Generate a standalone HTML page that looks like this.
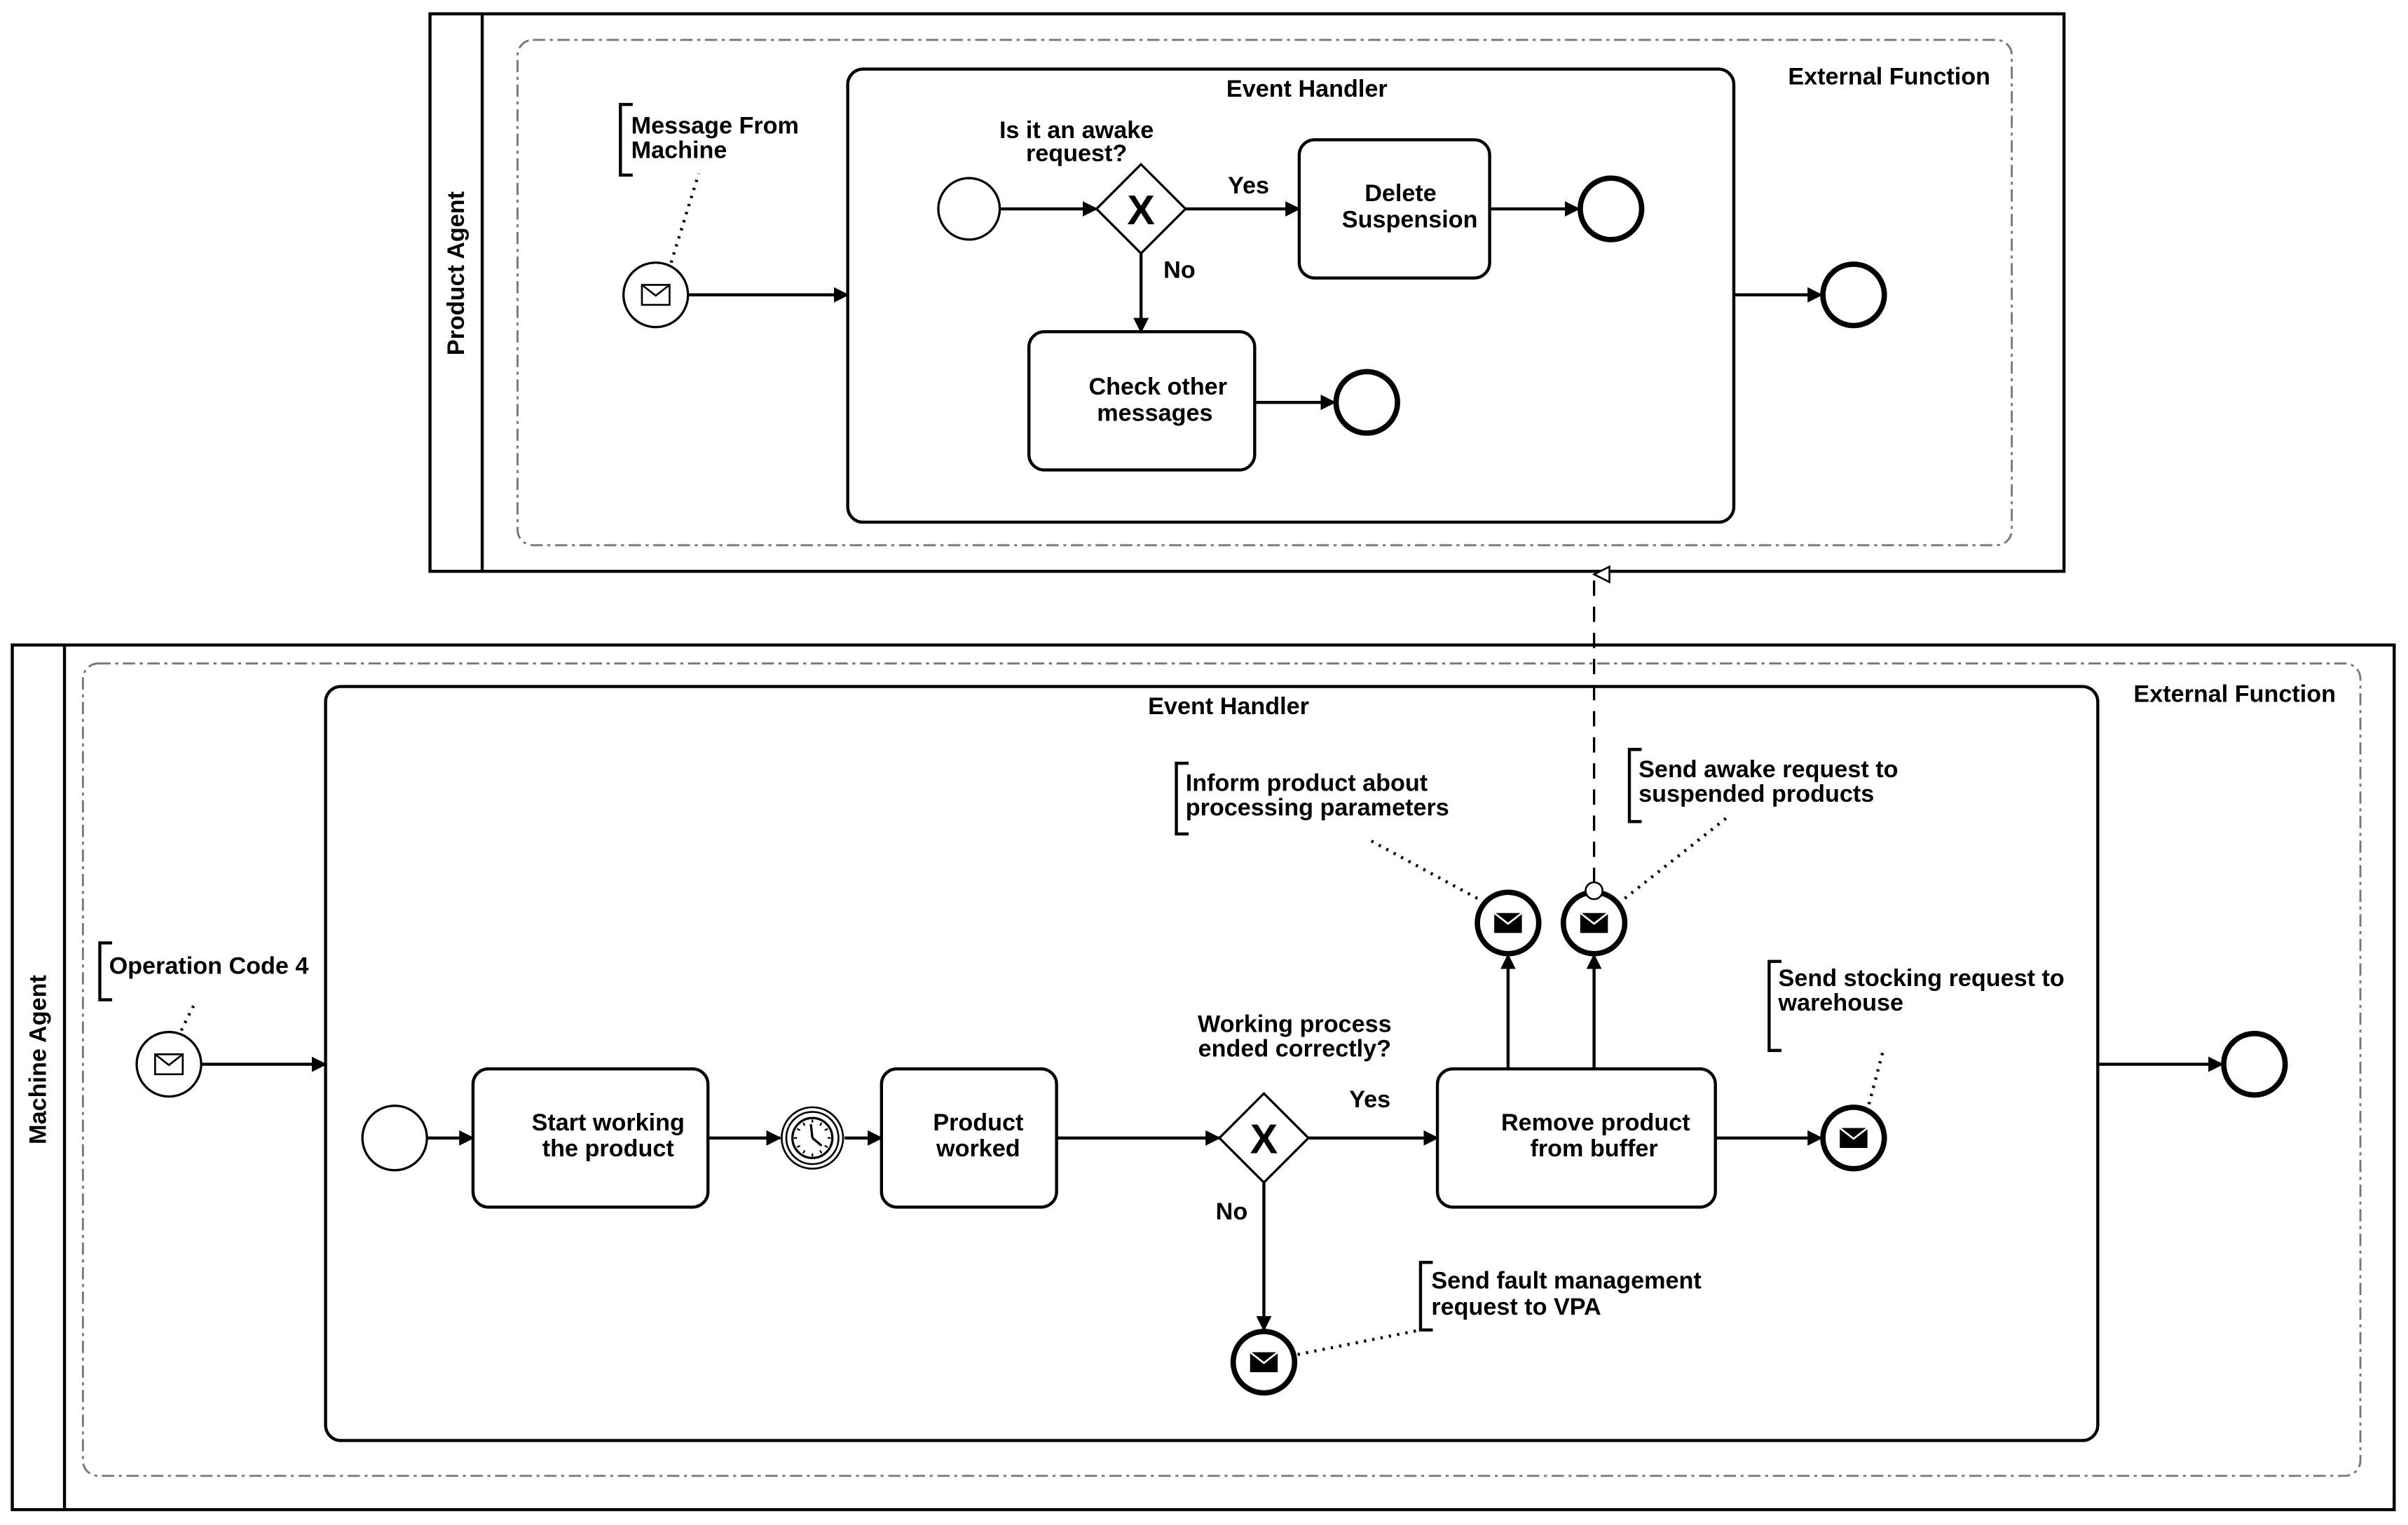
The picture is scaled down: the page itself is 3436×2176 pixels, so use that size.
<!DOCTYPE html>
<html><head><meta charset="utf-8"><style>
html,body{margin:0;padding:0;background:#fff;}
svg{display:block;}
text{font-family:"Liberation Sans",sans-serif;font-weight:bold;font-size:15.6px;fill:#000;}
</style></head><body>
<svg width="3436" height="2176" viewBox="0 0 1568 993" xmlns="http://www.w3.org/2000/svg">
<defs>
<marker id="a" markerWidth="10" markerHeight="10" refX="9" refY="5" orient="auto" markerUnits="userSpaceOnUse"><path d="M0,0 L10,5 L0,10 Z" fill="#000"/></marker>
<marker id="h" markerWidth="12" markerHeight="12" refX="6" refY="1" orient="auto" markerUnits="userSpaceOnUse"><path d="M1,11 L6,1 L11,11 Z" fill="#fff" stroke="#000" stroke-width="1.2"/></marker>
<g id="env"><rect x="-9" y="-6.5" width="18" height="13" fill="#fff" stroke="#000" stroke-width="1.2"/><path d="M-9,-6.5 L0,0.5 L9,-6.5" fill="none" stroke="#000" stroke-width="1.2"/></g>
<g id="envf"><rect x="-9" y="-6.5" width="18" height="13" fill="#000"/><path d="M-9,-6.5 L0,0.5 L9,-6.5" fill="none" stroke="#fff" stroke-width="1.2"/></g>
</defs>
<g fill="none" stroke="#000">
<rect x="280" y="9" width="1064" height="363" stroke-width="2"/>
<line x1="314" y1="9" x2="314" y2="372" stroke-width="2"/>
<rect x="337" y="26" width="973" height="329" rx="10" stroke="#777" stroke-width="1.3" stroke-dasharray="8,3,2,3"/>
<rect x="552" y="45" width="577" height="295" rx="10" stroke-width="2"/>
<circle cx="631" cy="136" r="20" stroke-width="1.5"/>
<path d="M743,107 L772,136 L743,165 L714,136 Z" stroke-width="1.5" fill="#fff"/>
<line x1="651" y1="136" x2="714" y2="136" stroke-width="2" marker-end="url(#a)"/>
<line x1="772" y1="136" x2="846" y2="136" stroke-width="2" marker-end="url(#a)"/>
<rect x="846" y="91" width="124" height="90" rx="10" stroke-width="2"/>
<line x1="970" y1="136" x2="1028" y2="136" stroke-width="2" marker-end="url(#a)"/>
<circle cx="1049" cy="136" r="20" stroke-width="3.5"/>
<line x1="743" y1="165" x2="743" y2="216" stroke-width="2" marker-end="url(#a)"/>
<rect x="670" y="216" width="147" height="90" rx="10" stroke-width="2"/>
<line x1="817" y1="262" x2="869" y2="262" stroke-width="2" marker-end="url(#a)"/>
<circle cx="890" cy="262" r="20" stroke-width="3.5"/>
<circle cx="427" cy="192" r="21" stroke-width="1.5"/>
<line x1="448" y1="192" x2="552" y2="192" stroke-width="2" marker-end="url(#a)"/>
<path d="M412,68 L404,68 L404,114 L412,114" stroke-width="2"/>
<line x1="437" y1="171" x2="455" y2="113" stroke-width="2" stroke-dasharray="1.5,4"/>
<line x1="1129" y1="192" x2="1186" y2="192" stroke-width="2" marker-end="url(#a)"/>
<circle cx="1207" cy="192" r="20" stroke-width="3.5"/>
<line x1="1038" y1="575" x2="1038" y2="374" stroke-width="1.5" stroke-dasharray="10,7" marker-end="url(#h)"/>
<rect x="8" y="420" width="1551" height="563" stroke-width="2"/>
<line x1="42" y1="420" x2="42" y2="983" stroke-width="2"/>
<rect x="54" y="432" width="1483" height="529" rx="10" stroke="#777" stroke-width="1.3" stroke-dasharray="8,3,2,3"/>
<rect x="212" y="447" width="1154" height="491" rx="10" stroke-width="2"/>
<circle cx="110" cy="693" r="21" stroke-width="1.5"/>
<line x1="131" y1="693" x2="212" y2="693" stroke-width="2" marker-end="url(#a)"/>
<path d="M73,614 L65,614 L65,651 L73,651" stroke-width="2"/>
<line x1="118" y1="671" x2="126" y2="655" stroke-width="2" stroke-dasharray="1.5,4"/>
<circle cx="257" cy="741" r="21" stroke-width="1.5"/>
<line x1="278" y1="741" x2="308" y2="741" stroke-width="2" marker-end="url(#a)"/>
<rect x="308" y="696" width="153" height="90" rx="10" stroke-width="2"/>
<line x1="461" y1="741" x2="508" y2="741" stroke-width="2" marker-end="url(#a)"/>
<circle cx="529" cy="741" r="20" stroke-width="1.2"/>
<circle cx="529" cy="741" r="17" stroke-width="1.2"/>
<circle cx="529" cy="741" r="13" stroke-width="1.5"/>
<path d="M529,741 L528,732 M529,741 L535,746" stroke-width="1.5"/>
<path d="M529,729 v2 M529,751 v2 M517,741 h2 M539,741 h2 M523,731 l1,2 M535,731 l-1,2 M523,751 l1,-2 M535,751 l-1,-2 M519,735 l2,1 M539,735 l-2,1 M519,747 l2,-1 M539,747 l-2,-1" stroke-width="1"/>
<line x1="550" y1="741" x2="574" y2="741" stroke-width="2" marker-end="url(#a)"/>
<rect x="574" y="696" width="114" height="90" rx="10" stroke-width="2"/>
<line x1="688" y1="741" x2="794" y2="741" stroke-width="2" marker-end="url(#a)"/>
<path d="M823,712 L852,741 L823,770 L794,741 Z" stroke-width="1.5" fill="#fff"/>
<line x1="852" y1="741" x2="936" y2="741" stroke-width="2" marker-end="url(#a)"/>
<line x1="823" y1="770" x2="823" y2="866" stroke-width="2" marker-end="url(#a)"/>
<circle cx="823" cy="887" r="20" stroke-width="3.5"/>
<line x1="845" y1="882" x2="925" y2="866" stroke-width="2" stroke-dasharray="1.5,4"/>
<path d="M933,822 L925,822 L925,866 L933,866" stroke-width="2"/>
<rect x="936" y="696" width="181" height="90" rx="10" stroke-width="2"/>
<line x1="1117" y1="741" x2="1186" y2="741" stroke-width="2" marker-end="url(#a)"/>
<circle cx="1207" cy="741" r="20" stroke-width="3.5"/>
<path d="M1160,626 L1152,626 L1152,684 L1160,684" stroke-width="2"/>
<line x1="1217" y1="719" x2="1226" y2="685" stroke-width="2" stroke-dasharray="1.5,4"/>
<line x1="982" y1="696" x2="982" y2="622" stroke-width="2" marker-end="url(#a)"/>
<line x1="1038" y1="696" x2="1038" y2="622" stroke-width="2" marker-end="url(#a)"/>
<circle cx="982" cy="601" r="20" stroke-width="3.5"/>
<circle cx="1038" cy="601" r="20" stroke-width="3.5"/>
<circle cx="1038" cy="580" r="5.5" stroke-width="1.2" fill="#fff"/>
<path d="M774,497 L766,497 L766,543 L774,543" stroke-width="2"/>
<line x1="962" y1="585" x2="890" y2="546" stroke-width="2" stroke-dasharray="1.5,4"/>
<path d="M1069,488 L1061,488 L1061,535 L1069,535" stroke-width="2"/>
<line x1="1058" y1="585" x2="1125" y2="532" stroke-width="2" stroke-dasharray="1.5,4"/>
<line x1="1366" y1="693" x2="1447" y2="693" stroke-width="2" marker-end="url(#a)"/>
<circle cx="1468" cy="693" r="20" stroke-width="3.5"/>
</g>
<use href="#env" x="427" y="192"/>
<use href="#env" x="110" y="693"/>
<use href="#envf" x="823" y="887"/>
<use href="#envf" x="1207" y="741"/>
<use href="#envf" x="982" y="601"/>
<use href="#envf" x="1038" y="601"/>
<text x="743" y="146" text-anchor="middle" style="font-size:27px">X</text>
<text x="823" y="751" text-anchor="middle" style="font-size:27px">X</text>
<text transform="translate(302,178) rotate(-90)" text-anchor="middle">Product Agent</text>
<text transform="translate(30,690) rotate(-90)" text-anchor="middle">Machine Agent</text>
<text x="1296" y="55" text-anchor="end">External Function</text>
<text x="851" y="63" text-anchor="middle">Event Handler</text>
<text x="701" y="90" text-anchor="middle">Is it an awake</text>
<text x="701" y="105" text-anchor="middle">request?</text>
<text x="813" y="126" text-anchor="middle">Yes</text>
<text x="768" y="181" text-anchor="middle">No</text>
<text x="912" y="131" text-anchor="middle">Delete</text>
<text x="918" y="148" text-anchor="middle">Suspension</text>
<text x="754" y="257" text-anchor="middle">Check other</text>
<text x="752" y="274" text-anchor="middle">messages</text>
<text x="411" y="87">Message From</text>
<text x="411" y="103">Machine</text>
<text x="1521" y="457" text-anchor="end">External Function</text>
<text x="800" y="465" text-anchor="middle">Event Handler</text>
<text x="71" y="634">Operation Code 4</text>
<text x="396" y="736" text-anchor="middle">Start working</text>
<text x="396" y="753" text-anchor="middle">the product</text>
<text x="637" y="736" text-anchor="middle">Product</text>
<text x="637" y="753" text-anchor="middle">worked</text>
<text x="843" y="672" text-anchor="middle">Working process</text>
<text x="843" y="688" text-anchor="middle">ended correctly?</text>
<text x="892" y="721" text-anchor="middle">Yes</text>
<text x="802" y="794" text-anchor="middle">No</text>
<text x="1039" y="736" text-anchor="middle">Remove product</text>
<text x="1038" y="753" text-anchor="middle">from buffer</text>
<text x="932" y="839">Send fault management</text>
<text x="932" y="856">request to VPA</text>
<text x="1158" y="642">Send stocking request to</text>
<text x="1158" y="658">warehouse</text>
<text x="772" y="515">Inform product about</text>
<text x="772" y="531">processing parameters</text>
<text x="1067" y="506">Send awake request to</text>
<text x="1067" y="522">suspended products</text>
</svg>
</body></html>
